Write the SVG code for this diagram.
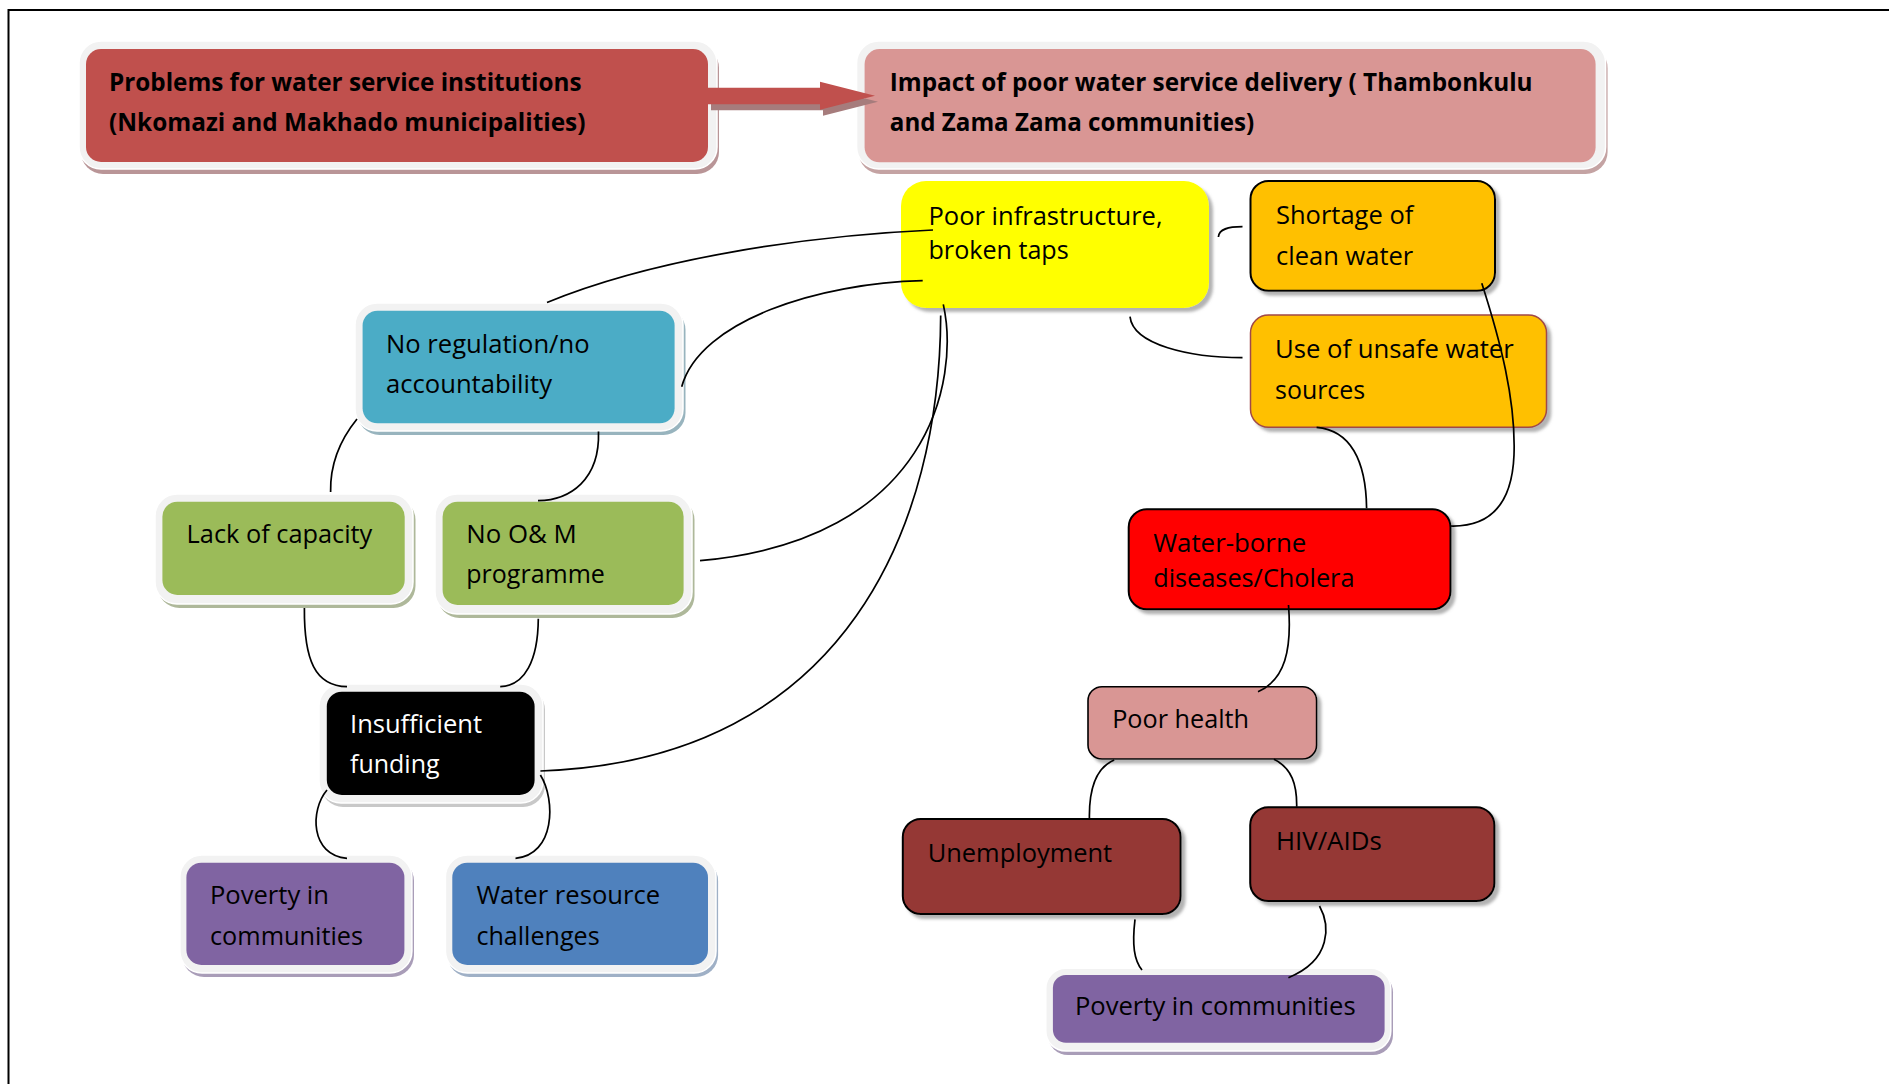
<svg xmlns="http://www.w3.org/2000/svg" width="1889" height="1084" viewBox="0 0 1889 1084">
<style>
.frame{fill:#F2F2F2;stroke:#FFFFFF;stroke-width:1.5}
.t{font-family:"Open Sans","Noto Sans","Liberation Sans",sans-serif;font-size:25px;fill:#000000}
.b{font-weight:bold;font-size:25px}
.w{fill:#FFFFFF}
.c{fill:none;stroke:#000000;stroke-width:1.7}
.k{stroke:#000000;stroke-width:2}
</style>
<defs>
<filter id="sh" x="-10%" y="-10%" width="125%" height="130%">
<feDropShadow dx="4" dy="4" stdDeviation="1.5" flood-color="#808080" flood-opacity="0.6"/>
</filter>
</defs>
<rect x="0" y="0" width="1889" height="1084" fill="#FFFFFF"/>
<path d="M8.5,1084 V10 H1889" fill="none" stroke="#000000" stroke-width="2"/>

<g id="n-problems">
<rect x="81" y="46" width="638" height="128" rx="22" fill="#B99597"/>
<rect class="frame" x="79" y="41" width="638" height="128" rx="22"/>
<rect x="86" y="49" width="622" height="113" rx="15" fill="#C0504D"/>
<text class="t b" x="109" y="90.7" textLength="472.5" lengthAdjust="spacingAndGlyphs">Problems for water service institutions</text>
<text class="t b" x="109" y="131" textLength="476.5" lengthAdjust="spacingAndGlyphs">(Nkomazi and Makhado municipalities)</text>
</g>

<g id="n-impact">
<rect x="858.6" y="46" width="749" height="128" rx="22" fill="#C4A3A3"/>
<rect class="frame" x="856.6" y="41" width="749" height="128" rx="22"/>
<rect x="864.6" y="49" width="731" height="113.3" rx="15" fill="#D99694"/>
<text class="t b" x="889.8" y="90.7" textLength="642.8" lengthAdjust="spacingAndGlyphs">Impact of poor water service delivery ( Thambonkulu</text>
<text class="t b" x="889.8" y="131" textLength="364.5" lengthAdjust="spacingAndGlyphs">and Zama Zama communities)</text>
</g>

<g id="arrow">
<polygon points="711,93.7 823,93.7 823,87.7 878,101.7 823,115.7 823,110.3 711,110.3" fill="#A67C7C"/>
<polygon points="708,87.7 820,87.7 820,81.7 875,95.7 820,109.7 820,104.3 708,104.3" fill="#C0504D"/>
</g>

<g id="n-infrastructure">
<rect x="901" y="181" width="308" height="127" rx="25" fill="#FFFF00" filter="url(#sh)"/>
<text class="t" x="928.5" y="225" textLength="234" lengthAdjust="spacingAndGlyphs">Poor infrastructure,</text>
<text class="t" x="928.5" y="259.3" textLength="140.2" lengthAdjust="spacingAndGlyphs">broken taps</text>
</g>

<g id="n-shortage">
<rect class="k" x="1250.5" y="181" width="244.5" height="109.7" rx="18" fill="#FFC000" filter="url(#sh)"/>
<text class="t" x="1276" y="224" textLength="137.3" lengthAdjust="spacingAndGlyphs">Shortage of</text>
<text class="t" x="1276" y="264.5" textLength="137.3" lengthAdjust="spacingAndGlyphs">clean water</text>
</g>

<g id="n-unsafe">
<rect x="1250.5" y="315" width="296" height="112.3" rx="18" fill="#FFC000" stroke="#A04848" stroke-width="1.5" filter="url(#sh)"/>
<text class="t" x="1275" y="358.3" textLength="238.8" lengthAdjust="spacingAndGlyphs">Use of unsafe water</text>
<text class="t" x="1275" y="399.3" textLength="90.2" lengthAdjust="spacingAndGlyphs">sources</text>
</g>

<g id="n-noreg">
<rect x="357.5" y="308" width="328" height="127" rx="22" fill="#98B4BE"/>
<rect class="frame" x="355" y="303" width="328" height="128" rx="22"/>
<rect x="362.6" y="310.7" width="312" height="112.6" rx="15" fill="#4BACC6"/>
<text class="t" x="386" y="353.3" textLength="203.6" lengthAdjust="spacingAndGlyphs">No regulation/no</text>
<text class="t" x="386" y="393.3" textLength="166" lengthAdjust="spacingAndGlyphs">accountability</text>
</g>

<g id="n-lack">
<rect x="157.5" y="498" width="258" height="110" rx="22" fill="#AEB89A"/>
<rect class="frame" x="155" y="494" width="258" height="110" rx="22"/>
<rect x="162.4" y="501.7" width="242.3" height="93.3" rx="15" fill="#9BBB59"/>
<text class="t" x="186.6" y="543.3" textLength="185.7" lengthAdjust="spacingAndGlyphs">Lack of capacity</text>
</g>

<g id="n-nooam">
<rect x="437.5" y="498" width="257" height="120" rx="22" fill="#AEB89A"/>
<rect class="frame" x="435" y="494" width="257" height="120" rx="22"/>
<rect x="442.6" y="501.7" width="241" height="103.3" rx="15" fill="#9BBB59"/>
<text class="t" x="466.3" y="543.3" textLength="110.5" lengthAdjust="spacingAndGlyphs">No O&amp; M</text>
<text class="t" x="466.3" y="583.3" textLength="138.6" lengthAdjust="spacingAndGlyphs">programme</text>
</g>

<g id="n-funding">
<rect x="321" y="688" width="224" height="119" rx="22" fill="#C8C8C8"/>
<rect class="frame" x="319" y="684" width="224" height="119" rx="22"/>
<rect x="326.8" y="691.7" width="207.8" height="103.3" rx="15" fill="#000000"/>
<text class="t w" x="350" y="732.7" textLength="132" lengthAdjust="spacingAndGlyphs">Insufficient</text>
<text class="t w" x="350" y="773.3" textLength="89.6" lengthAdjust="spacingAndGlyphs">funding</text>
</g>

<g id="n-poverty-left">
<rect x="182" y="859" width="232" height="118" rx="22" fill="#A99DB8"/>
<rect class="frame" x="179.9" y="855" width="232" height="118" rx="22"/>
<rect x="186.4" y="862.7" width="218" height="102.3" rx="15" fill="#8064A2"/>
<text class="t" x="210" y="904.3" textLength="119" lengthAdjust="spacingAndGlyphs">Poverty in</text>
<text class="t" x="210" y="945" textLength="153" lengthAdjust="spacingAndGlyphs">communities</text>
</g>

<g id="n-water-resource">
<rect x="447.5" y="859" width="270.6" height="118" rx="22" fill="#9FB0C6"/>
<rect class="frame" x="445.4" y="855" width="270.6" height="118" rx="22"/>
<rect x="452.3" y="862.7" width="255.7" height="102.3" rx="15" fill="#4F81BD"/>
<text class="t" x="476.4" y="904.3" textLength="183.7" lengthAdjust="spacingAndGlyphs">Water resource</text>
<text class="t" x="476.4" y="945" textLength="123.2" lengthAdjust="spacingAndGlyphs">challenges</text>
</g>

<g id="n-waterborne">
<rect class="k" x="1128.7" y="509.3" width="321.8" height="100" rx="18" fill="#FF0000" filter="url(#sh)"/>
<text class="t" x="1153.2" y="551.7" textLength="153.1" lengthAdjust="spacingAndGlyphs">Water-borne</text>
<text class="t" x="1153.2" y="586.7" textLength="201.3" lengthAdjust="spacingAndGlyphs">diseases/Cholera</text>
</g>

<g id="n-poorhealth">
<rect x="1088" y="686.7" width="228.6" height="72.3" rx="14" fill="#D99694" stroke="#000000" stroke-width="1.6" filter="url(#sh)"/>
<text class="t" x="1112.2" y="728.3" textLength="136.8" lengthAdjust="spacingAndGlyphs">Poor health</text>
</g>

<g id="n-unemployment">
<rect class="k" x="902.8" y="819" width="277.8" height="95" rx="18" fill="#953735" filter="url(#sh)"/>
<text class="t" x="927.7" y="861.7" textLength="184.5" lengthAdjust="spacingAndGlyphs">Unemployment</text>
</g>

<g id="n-hiv">
<rect class="k" x="1250.2" y="807.3" width="244.2" height="93.7" rx="18" fill="#953735" filter="url(#sh)"/>
<text class="t" x="1276" y="850" textLength="105.7" lengthAdjust="spacingAndGlyphs">HIV/AIDs</text>
</g>

<g id="n-poverty-right">
<rect x="1048" y="972.3" width="345" height="82.7" rx="20" fill="#A99DB8"/>
<rect class="frame" x="1045.8" y="968.3" width="345" height="82.7" rx="20"/>
<rect x="1052.9" y="975" width="331.7" height="67.7" rx="13" fill="#8064A2"/>
<text class="t" x="1074.9" y="1015" textLength="280.7" lengthAdjust="spacingAndGlyphs">Poverty in communities</text>
</g>

<g id="connectors">
<path class="c" d="M933,230 C800,236 650,260 547,302.5"/>
<path class="c" d="M922.7,280.7 C820,283 700,320 681.7,386.7"/>
<path class="c" d="M943.3,304.4 C960,380 930,540 700,560.7"/>
<path class="c" d="M940.7,315.5 C940,520 850,760 540.4,771"/>
<path class="c" d="M357,419 C340,440 330,465 330.6,492"/>
<path class="c" d="M598.5,431.5 C600,480 570,500 538,500.7"/>
<path class="c" d="M304.4,608 C304,660 315,686 347,686.7"/>
<path class="c" d="M538.3,618.8 C538,660 525,686 500.2,686.7"/>
<path class="c" d="M327,790 C310,810 310,855 347,858.3"/>
<path class="c" d="M540.4,775 C556,800 555,855 515.5,858.3"/>
<path class="c" d="M1218.4,237 C1219,229 1228,226.7 1242.5,226.7"/>
<path class="c" d="M1130,316.7 C1133,345 1190,357.7 1242.5,357.7"/>
<path class="c" d="M1481.8,283.3 C1500,340 1516,400 1514,455 C1512,505 1490,527 1450.5,526"/>
<path class="c" d="M1316.6,427.3 C1350,430 1366,460 1366.6,508.3"/>
<path class="c" d="M1288.5,605 C1292,650 1285,680 1258,691.7"/>
<path class="c" d="M1114.2,760 C1095,768 1089,790 1089.4,818.3"/>
<path class="c" d="M1273.9,759.3 C1292,768 1297,785 1296.7,806.7"/>
<path class="c" d="M1135,919.3 C1132,945 1134,960 1142,970"/>
<path class="c" d="M1319.5,906 C1330,925 1332,960 1288.4,977.7"/>
</g>
</svg>
